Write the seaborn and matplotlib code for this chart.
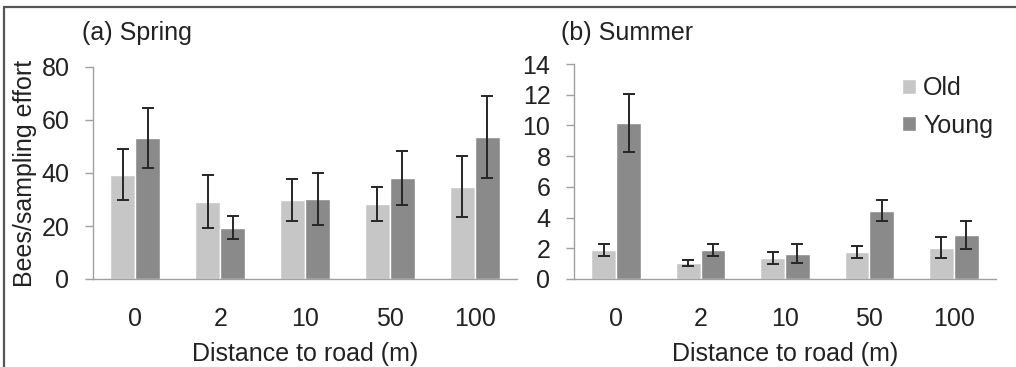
import numpy as np
import pandas as pd
import matplotlib
matplotlib.use('Agg')
import matplotlib.pyplot as plt
from matplotlib.lines import Line2D
import seaborn as sns

distances = ['0', '2', '10', '50', '100']
ages = ['Old', 'Young']

spring_old = [39.4, 29.2, 29.8, 28.3, 34.8]
spring_old_se = [9.5, 10.0, 7.8, 6.5, 11.5]
spring_young = [53.1, 19.4, 30.1, 38.2, 53.5]
spring_young_se = [11.3, 4.3, 9.9, 10.1, 15.5]

summer_old = [1.89, 1.04, 1.39, 1.76, 2.04]
summer_old_se = [0.42, 0.20, 0.40, 0.40, 0.70]
summer_young = [10.14, 1.89, 1.65, 4.46, 2.86]
summer_young_se = [1.90, 0.40, 0.60, 0.70, 0.90]

colors = {'Old': '#c6c6c6', 'Young': '#8a8a8a'}
spine_col = '#a0a0a0'
text_col = '#222222'
fs = 18

sns.set_style('white')
plt.rcParams['font.family'] = ['Liberation Sans', 'DejaVu Sans']


def make_df(old, young):
    return pd.DataFrame({
        'distance': distances * 2,
        'age': ['Old'] * len(old) + ['Young'] * len(young),
        'bees': list(old) + list(young),
    })


def draw_panel(ax, old, old_se, young, young_se, ymax, ystep):
    df = make_df(old, young)
    sns.barplot(data=df, x='distance', y='bees', hue='age', order=distances,
                hue_order=ages, palette=colors, saturation=1, width=0.59,
                errorbar=None, ax=ax, legend=True)
    for cont, se in zip(ax.containers, [old_se, young_se]):
        xs = [p.get_x() + p.get_width() / 2 for p in cont.patches]
        hs = [p.get_height() for p in cont.patches]
        ax.errorbar(xs, hs, yerr=se, fmt='none', ecolor='#262626',
                    elinewidth=1.4, capsize=4.5, capthick=1.4)
    ax.set_xlim(-0.5, len(distances) - 0.5)
    ax.set_ylim(0, ymax)
    ax.set_yticks(np.arange(0, ymax + 0.1, ystep))
    ax.set_xticks(np.arange(-0.5, len(distances)), [''] * (len(distances) + 1))
    ax.set_xticks(np.arange(len(distances)), distances, minor=True)
    ax.tick_params(axis='x', which='major', length=7, width=1, color=spine_col,
                   direction='out')
    ax.tick_params(axis='x', which='minor', length=0, pad=20, labelsize=fs,
                   labelcolor=text_col)
    ax.tick_params(axis='y', length=6, width=1, color=spine_col, direction='out',
                   pad=11, labelsize=fs, labelcolor=text_col, left=True)
    for s in ['top', 'right']:
        ax.spines[s].set_visible(False)
    for s in ['left', 'bottom']:
        ax.spines[s].set_color(spine_col)
        ax.spines[s].set_linewidth(1)
    ax.set_xlabel('Distance to road (m)', fontsize=fs, color=text_col, labelpad=8)
    ax.set_ylabel('')


fig = plt.figure(figsize=(10.16, 3.67), dpi=100)
ax1 = fig.add_axes([93 / 1016, 1 - 279 / 367, 424 / 1016, 212 / 367])
ax2 = fig.add_axes([574 / 1016, 1 - 279 / 367, 422 / 1016, 215 / 367])

draw_panel(ax1, spring_old, spring_old_se, spring_young, spring_young_se, 80, 20)
draw_panel(ax2, summer_old, summer_old_se, summer_young, summer_young_se, 14, 2)

ax1.set_ylabel('Bees/sampling effort', fontsize=fs, color=text_col, labelpad=3)
ax1.get_legend().remove()
handles, labels = ax2.get_legend_handles_labels()
ax2.get_legend().remove()
fig.legend(handles, labels, loc='upper left',
           bbox_to_anchor=(902 / 1016, 1 - 76 / 367), frameon=False,
           fontsize=fs, handlelength=0.55, handleheight=0.55, handletextpad=0.3,
           labelspacing=0.55, borderpad=0, borderaxespad=0, labelcolor=text_col)

fig.text(82 / 1016, 1 - 33 / 367, '(a) Spring', fontsize=fs, color=text_col,
         va='center', ha='left')
fig.text(561 / 1016, 1 - 33 / 367, '(b) Summer', fontsize=fs, color=text_col,
         va='center', ha='left')

# outer frame (top and left edges only)
fig.add_artist(Line2D([3.5 / 1016, 1], [1 - 6.5 / 367] * 2, color='#555555',
                      lw=1.6, transform=fig.transFigure))
fig.add_artist(Line2D([3.5 / 1016] * 2, [0, 1 - 6.5 / 367], color='#555555',
                      lw=1.6, transform=fig.transFigure))

fig.savefig('out.png', dpi=100)
